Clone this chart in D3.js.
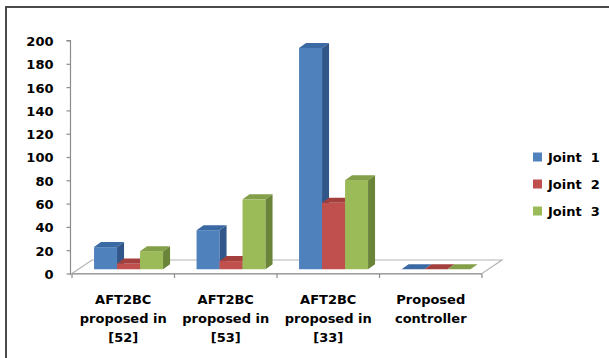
<!DOCTYPE html>
<html>
<head>
<meta charset="utf-8">
<script src="https://cdn.jsdelivr.net/npm/d3@7"></script>
<style>
  html, body { margin: 0; padding: 0; background: #fff; }
  svg { display: block; }
  text { font-family: "DejaVu Sans", sans-serif; font-weight: bold; font-size: 13px; fill: #000; }
</style>
</head>
<body>
<svg id="chart" width="609" height="358"></svg>
<script>
// Chart data
const categories = [
  ["AFT2BC", "proposed in", "[52]"],
  ["AFT2BC", "proposed in", "[53]"],
  ["AFT2BC", "proposed in", "[33]"],
  ["Proposed", "controller"]
];
const seriesNames = ["Joint  1", "Joint  2", "Joint  3"];
const joint1 = [19, 33.5, 190, 0];
const joint2 = [5, 7, 57, 0];
const joint3 = [15.5, 60, 76.5, 0];
const yTicks = [0, 20, 40, 60, 80, 100, 120, 140, 160, 180, 200];

const seriesValues = [joint1, joint2, joint3];
const faceColors = [
  { front: "#4f81bd", top: "#3b69a3", side: "#30568a" },
  { front: "#c0504d", top: "#a3403d", side: "#8c3533" },
  { front: "#9bbb59", top: "#839f48", side: "#6a8439" }
];

const svg = d3.select("#chart");

// Outer chart frame (extends past the right and bottom edges)
svg.append("rect")
  .attr("x", 6).attr("y", 7)
  .attr("width", 620).attr("height", 370)
  .attr("fill", "none").attr("stroke", "#4a4a4a").attr("stroke-width", 2);

// Plot geometry
const plotLeft = 72, plotRight = 482;
const floorDX = 20, floorDY = 13.5;   // depth of the 3D floor
const barDX = 7, barDY = 5;           // depth of each 3D bar
const offX = (floorDX - barDX) / 2, offY = (floorDY - barDY) / 2;

const y = d3.scaleLinear().domain([0, 200]).range([273.5, 40.5]);
const catKeys = categories.map((c, i) => i);
const x0 = d3.scaleBand().domain(catKeys).range([plotLeft, plotRight]);
const groupWidth = 69;
const x1 = d3.scaleBand().domain(d3.range(seriesNames.length)).range([0, groupWidth]);
const groupOffset = (x0.bandwidth() - groupWidth) / 2 - 1.2;

const y0 = y(0);

// Floor
svg.append("polygon")
  .attr("points", [
    [plotLeft, y0], [plotLeft + floorDX, y0 - floorDY],
    [plotRight + floorDX, y0 - floorDY], [plotRight, y0]
  ].map(p => p.join(",")).join(" "))
  .attr("fill", "#fff").attr("stroke", "#b3b3b3").attr("stroke-width", 1.2);

// Value axis
const yAxis = d3.axisLeft(y).tickValues(yTicks).tickSize(4).tickPadding(13);
const yg = svg.append("g").attr("transform", `translate(${plotLeft - 1.5},0)`).call(yAxis);
yg.select(".domain").attr("stroke", "#8c8c8c").attr("stroke-width", 1.2)
  .attr("d", `M-4,${y(200)}H0V${y0 + 1.5}`);
yg.selectAll(".tick line").attr("stroke", "#8c8c8c").attr("stroke-width", 1.2);
yg.selectAll(".tick text").attr("fill", "#000").attr("dy", "0.38em")
  .style("font-family", "'DejaVu Sans', sans-serif").style("font-weight", "bold").style("font-size", "13px");

// Category axis along the front edge of the floor
const xg = svg.append("g");
xg.append("line")
  .attr("x1", plotLeft).attr("x2", plotRight).attr("y1", y0 + 0.5).attr("y2", y0 + 0.5)
  .attr("stroke", "#8c8c8c").attr("stroke-width", 1.2);
const boundaries = catKeys.map(k => x0(k)).concat([plotRight]);
xg.selectAll("line.tick").data(boundaries).enter().append("line")
  .attr("class", "tick")
  .attr("x1", d => d).attr("x2", d => d)
  .attr("y1", y0 + 0.5).attr("y2", y0 + 4.5)
  .attr("stroke", "#8c8c8c").attr("stroke-width", 1.2);

const labels = xg.selectAll("text.cat").data(categories).enter().append("text")
  .attr("class", "cat")
  .attr("text-anchor", "middle")
  .attr("x", (d, i) => x0(i) + x0.bandwidth() / 2);
labels.selectAll("tspan").data(d => d).enter().append("tspan")
  .attr("x", function () { return d3.select(this.parentNode).attr("x"); })
  .attr("y", (d, j) => 303.5 + j * 19)
  .text(d => d);

// 3D bars
const bars = svg.append("g");
catKeys.forEach(ci => {
  seriesValues.forEach((vals, si) => {
    const v = vals[ci];
    const c = faceColors[si];
    const w = x1.bandwidth();
    const xl = x0(ci) + groupOffset + x1(si) + offX;
    const yb = y(0) - offY;
    const yt = y(v) - offY;
    const g = bars.append("g");
    // front face
    g.append("rect").attr("x", xl).attr("y", yt)
      .attr("width", w).attr("height", Math.max(0, yb - yt))
      .attr("fill", c.front);
    // side face
    g.append("polygon")
      .attr("points", [[xl + w, yt], [xl + w + barDX, yt - barDY], [xl + w + barDX, yb - barDY], [xl + w, yb]]
        .map(p => p.join(",")).join(" "))
      .attr("fill", c.side);
    // top face
    g.append("polygon")
      .attr("points", [[xl, yt], [xl + barDX, yt - barDY], [xl + w + barDX, yt - barDY], [xl + w, yt]]
        .map(p => p.join(",")).join(" "))
      .attr("fill", c.top);
  });
});

// Legend
const legend = svg.append("g");
const legendY = d3.scalePoint().domain(d3.range(seriesNames.length)).range([157, 211]);
seriesNames.forEach((name, i) => {
  legend.append("rect")
    .attr("x", 533).attr("y", legendY(i) - 4.5)
    .attr("width", 9).attr("height", 9)
    .attr("fill", faceColors[i].front);
  legend.append("text")
    .attr("x", 548).attr("y", legendY(i)).attr("dy", "0.36em")
    .attr("xml:space", "preserve").style("white-space", "pre")
    .text(name);
});
</script>
</body>
</html>
